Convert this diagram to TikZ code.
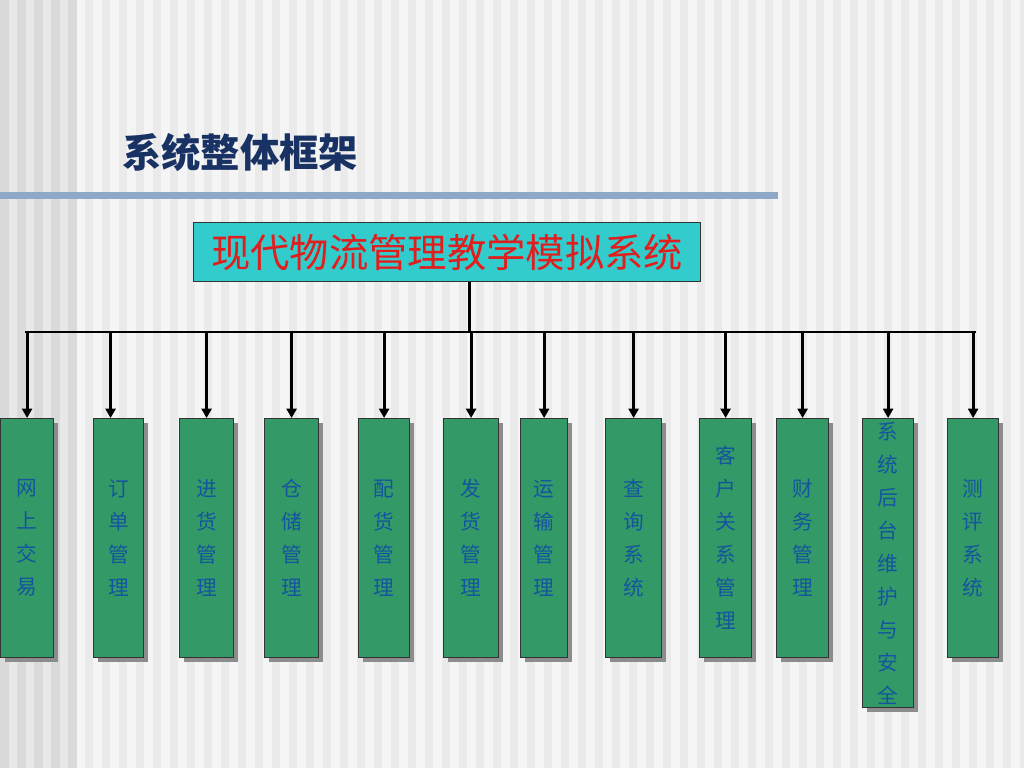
\documentclass[tikz,border=0pt]{standalone}
\usepackage{fontspec}
\setmainfont{Noto Sans CJK SC}
\usetikzlibrary{arrows.meta,shadows}
\definecolor{boxgreen}{RGB}{51,153,102}
\definecolor{boxtext}{RGB}{20,85,160}
\definecolor{maincyan}{RGB}{51,204,204}
\definecolor{mainred}{RGB}{225,30,30}
\definecolor{titlenavy}{RGB}{25,50,100}
\definecolor{barblue}{RGB}{143,168,200}
\definecolor{bgbase}{RGB}{245,245,245}
\definecolor{bgstripe}{RGB}{234,234,234}
\definecolor{bgleftbase}{RGB}{232,232,232}
\definecolor{bgleftstripe}{RGB}{218,218,218}
\tikzset{
  modbox/.style={draw=black!80, line width=0.9pt, fill=boxgreen, anchor=north west,
    inner sep=0pt, align=center, text=boxtext,
    font=\fontsize{15.5}{24.75}\selectfont,
    drop shadow={shadow xshift=3pt, shadow yshift=-3pt, fill=black!45, opacity=1}},
  mainbox/.style={draw=black!80, line width=0.9pt, fill=maincyan, anchor=north west,
    inner sep=0pt, text=mainred, font=\fontsize{29.5}{31}\selectfont,
    minimum width=380.25pt, minimum height=44.25pt},
  conn/.style={line width=2.2pt, black},
  arr/.style={line width=2.2pt, black, -{Triangle[width=7.5pt,length=7pt]}}
}
\begin{document}
\begin{tikzpicture}[x=0.75pt,y=-0.75pt]
\useasboundingbox (0,0) rectangle (1024,768);
% background stripes
\fill[bgbase] (0,0) rectangle (1024,768);
\foreach \i in {5,...,60}{\fill[bgstripe] (\i*17,0) rectangle ++(8,768);}
\fill[bgleftbase] (0,0) rectangle (77,768);
\foreach \i in {0,...,4}{\fill[bgleftstripe] (\i*17,0) rectangle ++(8.5,768);}
% title and bar
\node[anchor=center, text=titlenavy, font=\fontsize{29.5}{32}\selectfont\bfseries,
  drop shadow={shadow xshift=0pt, shadow yshift=0pt, opacity=0}] (title) at (240,153) {系统整体框架};
\fill[barblue] (0,192) rectangle (778,199);
% main box
\node[mainbox] (main) at (193,222) {现代物流管理教学模拟系统};
% modules
\node[modbox, minimum width=39.75pt, minimum height=179.25pt] (b1) at (0,418) {网\\上\\交\\易};
\node[modbox, minimum width=37.5pt, minimum height=179.25pt] (b2) at (93,418) {订\\单\\管\\理};
\node[modbox, minimum width=40.5pt, minimum height=179.25pt] (b3) at (179,418) {进\\货\\管\\理};
\node[modbox, minimum width=40.5pt, minimum height=179.25pt] (b4) at (264,418) {仓\\储\\管\\理};
\node[modbox, minimum width=38.25pt, minimum height=179.25pt] (b5) at (358,418) {配\\货\\管\\理};
\node[modbox, minimum width=41.25pt, minimum height=179.25pt] (b6) at (443,418) {发\\货\\管\\理};
\node[modbox, minimum width=35.25pt, minimum height=179.25pt] (b7) at (520,418) {运\\输\\管\\理};
\node[modbox, minimum width=42pt, minimum height=179.25pt] (b8) at (605,418) {查\\询\\系\\统};
\node[modbox, minimum width=39pt, minimum height=179.25pt] (b9) at (699,418) {客\\户\\关\\系\\管\\理};
\node[modbox, minimum width=39pt, minimum height=179.25pt] (b10) at (776,418) {财\\务\\管\\理};
\node[modbox, minimum width=38.25pt, minimum height=216.75pt] (b11) at (862,418) {系\\统\\后\\台\\维\\护\\与\\安\\全};
\node[modbox, minimum width=38.25pt, minimum height=179.25pt] (b12) at (947,418) {测\\评\\系\\统};
% connectors
\coordinate (busL) at (25,332);
\coordinate (busR) at (976,332);
\draw[conn] ([xshift=16.5pt]main.south) -- ([xshift=16.5pt]main.south |- busL);
\draw[conn] (busL) -- (busR);
\foreach \b in {b1,b3,b4,b5,b6,b7,b8,b9,b10,b11,b12}{
  \draw[arr] (\b.north |- busL) -- (\b.north);
}
\draw[arr] ([xshift=-6pt]b2.north |- busL) -- ([xshift=-6pt]b2.north);
\end{tikzpicture}
\end{document}
